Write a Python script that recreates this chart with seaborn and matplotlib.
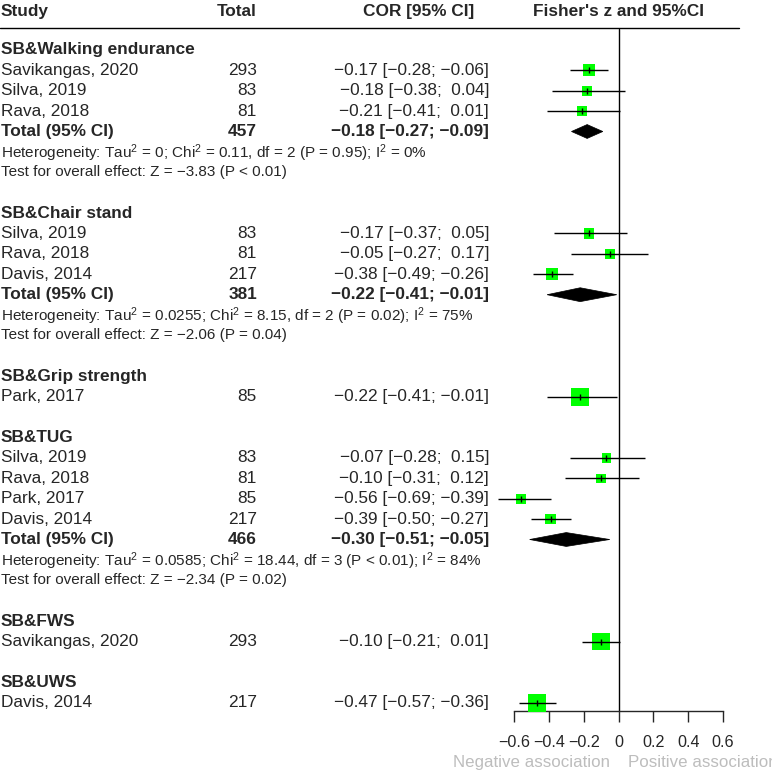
import matplotlib
matplotlib.use("Agg")
import matplotlib.pyplot as plt
from matplotlib.patches import Polygon
import numpy as np
import seaborn as sns

sns.set_style("white")
plt.rcParams["font.family"] = ["Liberation Sans", "DejaVu Sans"]
plt.rcParams["mathtext.fontset"] = "custom"
plt.rcParams["mathtext.rm"] = "Liberation Sans"
plt.rcParams["mathtext.it"] = "Liberation Sans"

# subgroups (outcomes)
groups = ["SB&Walking endurance", "SB&Chair stand", "SB&Grip strength",
          "SB&TUG", "SB&FWS", "SB&UWS"]

# single studies
study = ["Savikangas, 2020", "Silva, 2019", "Rava, 2018",
         "Silva, 2019", "Rava, 2018", "Davis, 2014",
         "Park, 2017",
         "Silva, 2019", "Rava, 2018", "Park, 2017", "Davis, 2014",
         "Savikangas, 2020",
         "Davis, 2014"]
study_group = [0, 0, 0, 1, 1, 1, 2, 3, 3, 3, 3, 4, 5]
total = [293, 83, 81, 83, 81, 217, 85, 83, 81, 85, 217, 293, 217]
cor = [-0.17, -0.18, -0.21, -0.17, -0.05, -0.38, -0.22, -0.07, -0.10, -0.56, -0.39, -0.10, -0.47]
lower = [-0.28, -0.38, -0.41, -0.37, -0.27, -0.49, -0.41, -0.28, -0.31, -0.69, -0.50, -0.21, -0.57]
upper = [-0.06, 0.04, 0.01, 0.05, 0.17, -0.26, -0.01, 0.15, 0.12, -0.39, -0.27, 0.01, -0.36]
weight = [44, 31, 31, 31, 31, 44, 100, 28, 28, 31, 34, 100, 100]

# pooled results
pooled_group = [0, 1, 3]
pooled_total = [457, 381, 466]
pooled_cor = [-0.18, -0.22, -0.30]
pooled_lower = [-0.27, -0.41, -0.51]
pooled_upper = [-0.09, -0.01, -0.05]
het_text = [r"Heterogeneity: Tau$^2$ = 0; Chi$^2$ = 0.11, df = 2 (P = 0.95); I$^2$ = 0%",
            r"Heterogeneity: Tau$^2$ = 0.0255; Chi$^2$ = 8.15, df = 2 (P = 0.02); I$^2$ = 75%",
            r"Heterogeneity: Tau$^2$ = 0.0585; Chi$^2$ = 18.44, df = 3 (P < 0.01); I$^2$ = 84%"]
test_text = ["Test for overall effect: Z = −3.83 (P < 0.01)",
             "Test for overall effect: Z = −2.06 (P = 0.04)",
             "Test for overall effect: Z = −2.34 (P = 0.02)"]

ticks = [-0.6, -0.4, -0.2, 0, 0.2, 0.4, 0.6]


def num(v, pad=False):
    s = "%.2f" % v
    if v >= 0 and pad:
        s = " " + s
    return s.replace("-", "−")


def ci_label(e, l, u):
    return "%s [%s; %s]" % (num(e), num(l, True), num(u, True))


# work out the row of every line of the table
rows = []   # (kind, index, row)
k = 1
for g in range(len(groups)):
    rows.append(("head", g, k))
    k += 1
    for i in range(len(study)):
        if study_group[i] == g:
            rows.append(("study", i, k))
            k += 1
    if g in pooled_group:
        j = pooled_group.index(g)
        rows.append(("total", j, k))
        rows.append(("het", j, k + 1))
        rows.append(("test", j, k + 2))
        k += 3
    k += 1

ROW = 20.4
Y0 = 29.5
fs = 12.4
fs_small = 11.0

fig = plt.figure(figsize=(7.72, 7.75), dpi=100)
ax = fig.add_axes([0, 0, 1, 1])
ax.set_xlim(0, 772)
ax.set_ylim((775 - Y0) / ROW, -Y0 / ROW)
ax.axis("off")

fa = fig.add_axes([514 / 772, 1 - 711 / 775, 209 / 772, (711 - 28.5) / 775])
fa.set_xlim(-0.6, 0.6)
fa.set_ylim((711 - Y0) / ROW, (28.5 - Y0) / ROW)
fa.patch.set_alpha(0)
for side in ["top", "left", "right"]:
    fa.spines[side].set_visible(False)
fa.spines["bottom"].set_linewidth(1.0)
fa.set_yticks([])
fa.set_xticks(ticks)
fa.set_xticklabels(["0" if t == 0 else num(t).rstrip("0") for t in ticks])
fa.tick_params(axis="x", bottom=True, direction="out", length=8, width=1.0,
               pad=9, labelsize=11.6)

# header
yh = (12 - Y0) / ROW
ax.text(1, yh, "Study", fontsize=fs, fontweight="bold", va="center")
ax.text(257, yh, "Total", fontsize=fs, fontweight="bold", va="center", ha="right")
ax.text(418.5, yh, "COR [95% CI]", fontsize=fs, fontweight="bold", va="center", ha="center")
ax.text(618.5, yh, "Fisher's z and 95%CI", fontsize=fs, fontweight="bold", va="center", ha="center")
ax.plot([0, 739], [(28.5 - Y0) / ROW] * 2, color="black", lw=1.0)

# null line
fa.axvline(0, color="black", lw=1.0)

study_rows = []
for kind, i, r in rows:
    if kind == "head":
        ax.text(1, r, groups[i], fontsize=fs, fontweight="bold", va="center")
    elif kind == "study":
        study_rows.append(r)
        ax.text(1, r, study[i], fontsize=fs, va="center")
        ax.text(257, r, str(total[i]), fontsize=fs, va="center", ha="right")
        ax.text(489, r, ci_label(cor[i], lower[i], upper[i]), fontsize=fs, va="center", ha="right")
    elif kind == "total":
        ax.text(1, r, "Total (95% CI)", fontsize=fs, fontweight="bold", va="center")
        ax.text(257, r, str(pooled_total[i]), fontsize=fs, fontweight="bold", va="center", ha="right")
        ax.text(489, r, ci_label(pooled_cor[i], pooled_lower[i], pooled_upper[i]),
                fontsize=fs, fontweight="bold", va="center", ha="right")
        d = Polygon([(pooled_lower[i], r), (pooled_cor[i], r - 0.34),
                     (pooled_upper[i], r), (pooled_cor[i], r + 0.34)],
                    closed=True, facecolor="black", edgecolor="black", lw=0.5,
                    clip_on=False, zorder=4)
        fa.add_patch(d)
    elif kind == "het":
        ax.text(1, r + 0.05, het_text[i], fontsize=fs_small, va="center")
    elif kind == "test":
        ax.text(1, r, test_text[i], fontsize=fs_small, va="center")

study_rows = np.array(study_rows)
side_pt = 18 * np.sqrt(np.array(weight) / 100.0) / 1.389
sns.scatterplot(x=cor, y=study_rows, s=side_pt ** 2, marker="s", color="#00ff00",
                linewidth=0, ax=fa, legend=False, clip_on=False, zorder=3)
fa.hlines(study_rows, lower, upper, color="black", lw=1.0, clip_on=False, zorder=4)
fa.plot(cor, study_rows, ls="none", marker="|", ms=4, mew=1.0, color="black",
        clip_on=False, zorder=5)

# direction labels
yl = (763 - Y0) / ROW
ax.text(610, yl, "Negative association", fontsize=12.2, color="#bdbdbd", va="center", ha="right")
ax.text(628, yl, "Positive association", fontsize=12.2, color="#bdbdbd", va="center", ha="left")

fig.savefig("out.png", dpi=100)
